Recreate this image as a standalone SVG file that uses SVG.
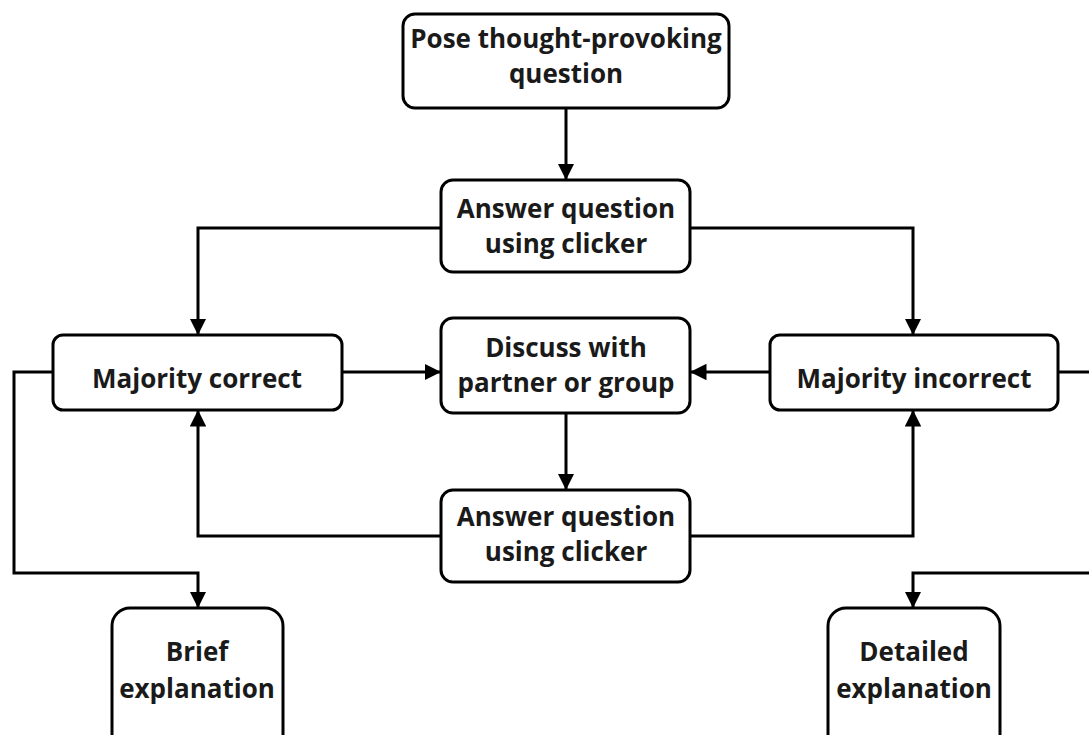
<svg xmlns="http://www.w3.org/2000/svg" width="1089" height="735" viewBox="0 0 1089 735">
<defs>
<marker id="ah" viewBox="0 0 10 10" refX="10" refY="5" markerWidth="5.5" markerHeight="5.5" orient="auto" markerUnits="strokeWidth">
<path d="M0,0 L10,5 L0,10 Z" fill="#000"/>
</marker>
<style>
.box{fill:#fff;stroke:#000;stroke-width:3}
.t{font-family:"Open Sans","Noto Sans",sans-serif;font-weight:bold;font-size:26px;fill:#1a1a1a;text-anchor:middle}
.c{fill:none;stroke:#000;stroke-width:3;marker-end:url(#ah)}
.n{fill:none;stroke:#000;stroke-width:3}
</style>
</defs>
<rect width="1089" height="735" fill="#fff"/>
<g id="connectors">
<path class="c" d="M566,108 V180"/>
<path class="c" d="M441,228 H198 V335"/>
<path class="c" d="M690,228 H913 V335"/>
<path class="c" d="M342,372 H441"/>
<path class="c" d="M770,372 H690"/>
<path class="c" d="M566,413 V490"/>
<path class="c" d="M441,536 H198 V410"/>
<path class="c" d="M690,536 H913 V410"/>
<path class="c" d="M53,372 H14 V573 H198 V608"/>
<path class="n" d="M1058,372 H1095"/>
<path class="c" d="M1095,573 H913 V608"/>
</g>
<g id="pose">
<rect class="box" x="403" y="14" width="326" height="94" rx="12"/>
<text class="t" x="566" y="48">Pose thought-provoking</text>
<text class="t" x="566" y="83">question</text>
</g>
<g id="answer1">
<rect class="box" x="441" y="180" width="249" height="92" rx="12"/>
<text class="t" x="566" y="218">Answer question</text>
<text class="t" x="566" y="253">using clicker</text>
</g>
<g id="majority-correct">
<rect class="box" x="53" y="335" width="289" height="75" rx="10"/>
<text class="t" x="197" y="388">Majority correct</text>
</g>
<g id="discuss">
<rect class="box" x="441" y="318" width="249" height="95" rx="12"/>
<text class="t" x="566" y="357">Discuss with</text>
<text class="t" x="566" y="392">partner or group</text>
</g>
<g id="majority-incorrect">
<rect class="box" x="770" y="335" width="288" height="75" rx="10"/>
<text class="t" x="914" y="388">Majority incorrect</text>
</g>
<g id="answer2">
<rect class="box" x="441" y="490" width="249" height="92" rx="12"/>
<text class="t" x="566" y="526">Answer question</text>
<text class="t" x="566" y="561">using clicker</text>
</g>
<g id="brief">
<rect class="box" x="112" y="608" width="171" height="150" rx="18"/>
<text class="t" x="197" y="661">Brief</text>
<text class="t" x="197" y="698">explanation</text>
</g>
<g id="detailed">
<rect class="box" x="828" y="608" width="172" height="150" rx="18"/>
<text class="t" x="914" y="661">Detailed</text>
<text class="t" x="914" y="698">explanation</text>
</g>
</svg>
